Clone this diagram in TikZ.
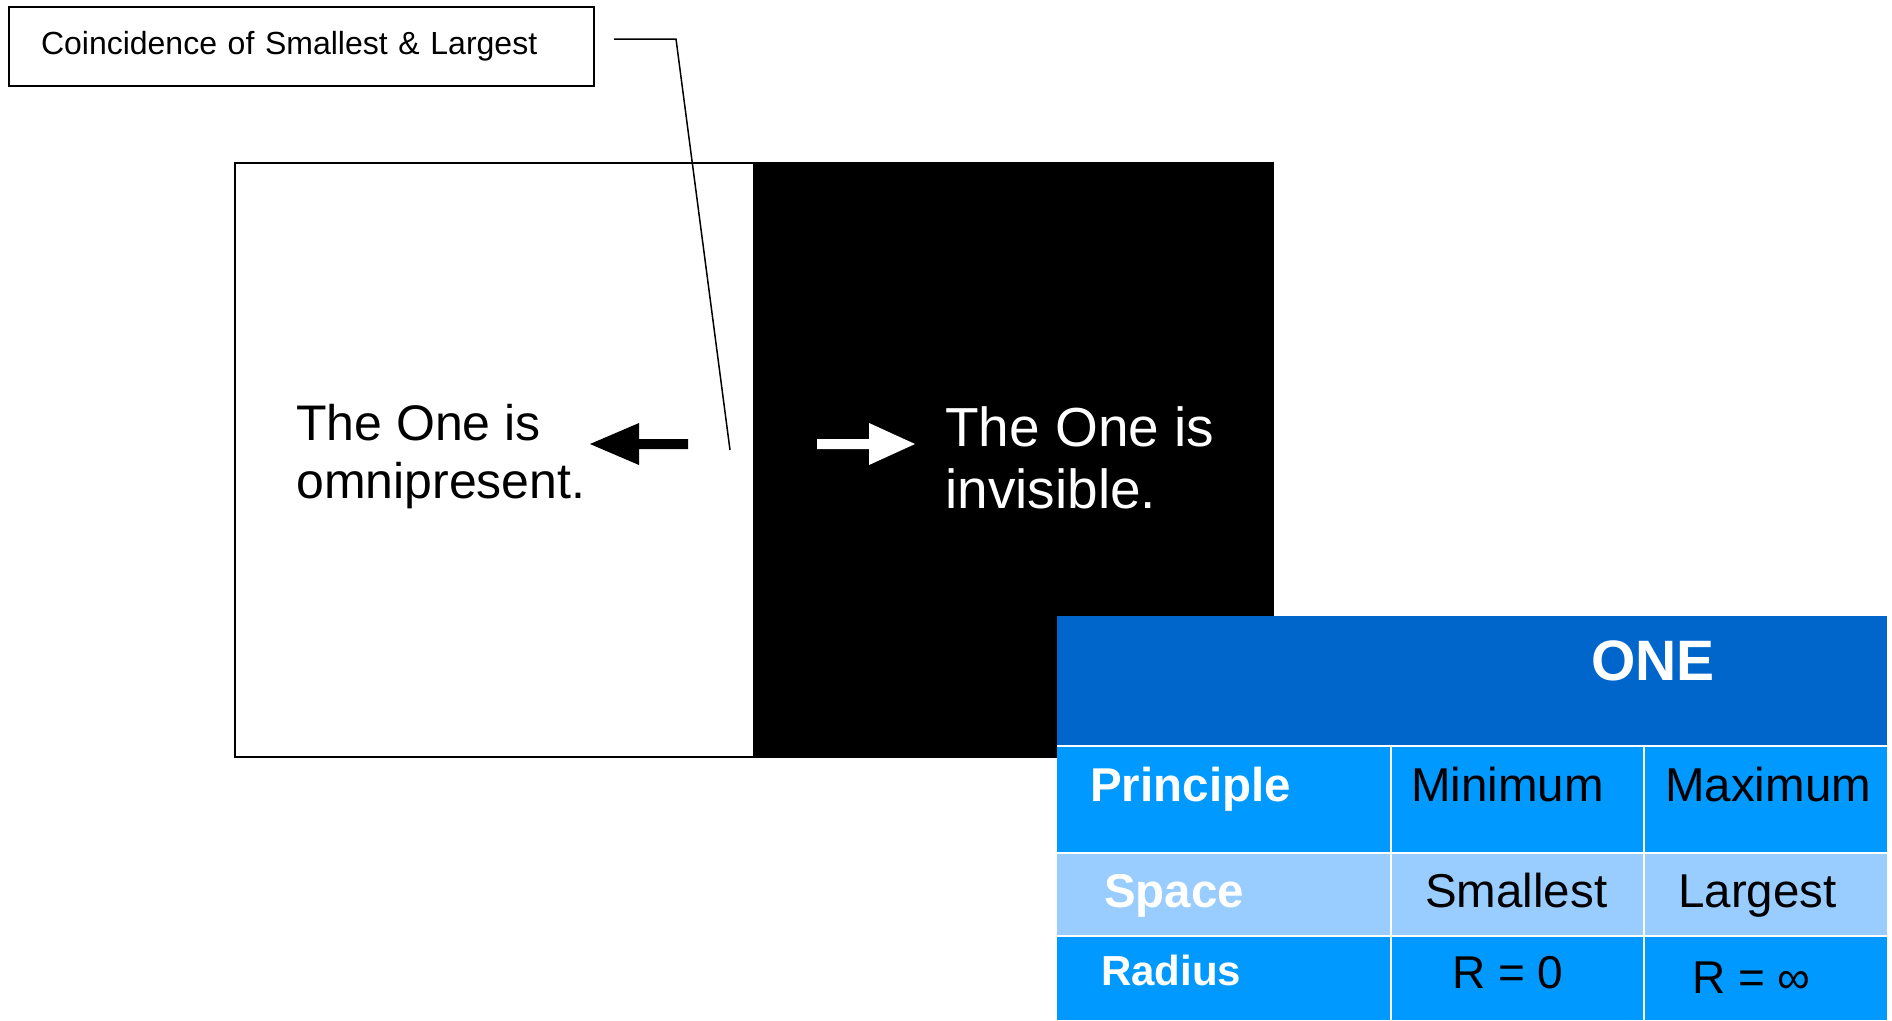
\documentclass[tikz,border=0pt]{standalone}
\usepackage{fontspec}
\setmainfont{Liberation Sans}
\definecolor{onedark}{HTML}{0066CC}
\definecolor{onemid}{HTML}{0099FF}
\definecolor{onelight}{HTML}{99CCFF}
\tikzset{
	celltext/.style={anchor=base west, inner sep=0pt, font=\fontsize{47.5}{57}\selectfont},
	headtext/.style={celltext, text=white, font=\bfseries\fontsize{47.5}{57}\selectfont},
	cellrule/.style={white, line width=2pt},
}

\begin{document}
\begin{tikzpicture}[x=1pt,y=-1pt]
		%%%%% START %%%%%
		\useasboundingbox (0,0) rectangle (1892,1020);
		
		\node[draw, line width=2pt, anchor=north west, minimum width=585pt, minimum height=79pt, inner xsep=32pt, inner ysep=0pt, text width=521pt, align=left, font=\fontsize{32}{38}\selectfont] (caption) at (8,6) {Coincidence of Smallest \& Largest};
		
		\fill[black] (753,163) rectangle (1273,757);
		\draw[line width=2pt] (235,163) rectangle (1273,757);
		
		\coordinate (leaderend) at (730,450);
		\draw[line width=1.5pt] ([shift={(19,-7.5)}]caption.east) -- ++(62,0) -- (leaderend);
		
		\node[anchor=north west, inner sep=0pt, align=left, font=\fontsize{50}{58}\selectfont] (omni) at (296,404) {The One is\\omnipresent.};
		\node[anchor=north west, inner sep=0pt, align=left, text=white, font=\fontsize{55}{62}\selectfont] (invis) at (945,406) {The One is\\invisible.};
		
		\fill[black] (590,444) -- (639,423) -- (639,439) -- (688,439) -- (688,449) -- (639,449) -- (639,465) -- cycle;
		\fill[white] (915,444) -- (869,423) -- (869,439) -- (817,439) -- (817,449) -- (869,449) -- (869,465) -- cycle;
		
		\fill[onedark] (1057,616) rectangle (1887,746);
		\fill[onemid] (1057,746) rectangle (1887,853);
		\fill[onelight] (1057,853) rectangle (1887,936);
		\fill[onemid] (1057,936) rectangle (1887,1020);
		\foreach \y in {746,853,936}
			\draw[cellrule] (1057,\y) -- (1887,\y);
		\foreach \x in {1391,1644}
			\draw[cellrule] (\x,746) -- (\x,1020);
		
		\node[headtext, anchor=base, font=\bfseries\fontsize{57}{68}\selectfont] (one) at (1653,680) {ONE};
		\node[headtext] (principle) at (1090,801) {Principle};
		\node[celltext] (minimum) at (1411,801) {Minimum};
		\node[celltext] (maximum) at (1665,801) {Maximum};
		\node[headtext] (space) at (1104,907) {Space};
		\node[celltext] (smallest) at (1425,907) {Smallest};
		\node[celltext] (largest) at (1678,907) {Largest};
		\node[headtext, font=\bfseries\fontsize{42}{50}\selectfont] (radius) at (1101,985) {Radius};
		\node[celltext, font=\fontsize{46}{55}\selectfont] (rzero) at (1452,988) {R = 0};
		\node[celltext, font=\fontsize{46}{55}\selectfont] (rinf) at (1692,993) {R = ∞};
		
		%%%%% END %%%%%
\end{tikzpicture}
\end{document}
